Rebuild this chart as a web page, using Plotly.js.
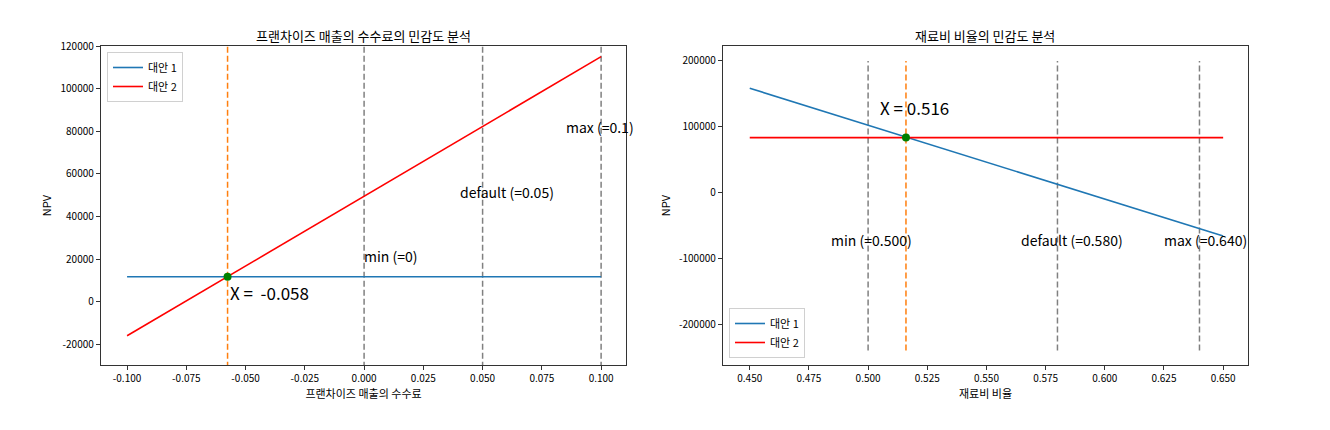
<!DOCTYPE html>
<html>
<head>
<meta charset="utf-8">
<script src="https://cdn.plot.ly/plotly-3.0.1.min.js"></script>
<style>
  body { margin: 0; background: #fff; }
  #plot { width: 1330px; height: 430px; }
</style>
</head>
<body>
<div id="plot"></div>
<script>
// left panel: franchise fee sensitivity
let feeX = [-0.1, 0.1];
let feeAlt1 = [11700, 11700];
let feeAlt2 = [-16000, 115000];
let feeCross = [-0.0576, 11700];
let feeMarks = [0, 0.05, 0.1];
let feeMarkLabels = ['min (=0)', 'default (=0.05)', 'max (=0.1)'];
let feeLabelX = [0, 0.0403, 0.0853];
let feeLabelY = [21600, 51700, 81900];
let feeVlineY = [-31000, 121000];
let feeXTicks = [-0.1, -0.075, -0.05, -0.025, 0, 0.025, 0.05, 0.075, 0.1];
let feeXTickText = ['-0.100', '-0.075', '-0.050', '-0.025', '0.000', '0.025', '0.050', '0.075', '0.100'];
let feeYTicks = [-20000, 0, 20000, 40000, 60000, 80000, 100000, 120000];
let feeYTickText = ['-20000', '0', '20000', '40000', '60000', '80000', '100000', '120000'];

// right panel: material cost ratio sensitivity
let matX = [0.45, 0.65];
let matAlt1 = [158500, -66000];
let matAlt2 = [83500, 83500];
let matCross = [0.516, 83500];
let matMarks = [0.5, 0.58, 0.64];
let matMarkLabels = ['min (=0.500)', 'default (=0.580)', 'max (=0.640)'];
let matLabelX = [0.4845, 0.5647, 0.6248];
let matLabelY = [-72700, -72700, -72700];
let matVlineY = [-240000, 200000];
let matXTicks = [0.45, 0.475, 0.5, 0.525, 0.55, 0.575, 0.6, 0.625, 0.65];
let matXTickText = ['0.450', '0.475', '0.500', '0.525', '0.550', '0.575', '0.600', '0.625', '0.650'];
let matYTicks = [-200000, -100000, 0, 100000, 200000];
let matYTickText = ['-200000', '-100000', '0', '100000', '200000'];

let font = '"Noto Sans CJK KR", "DejaVu Sans", sans-serif';
let data = [];

function vline(x, ys, color, xa, ya) {
  return {
    x: [x, x], y: ys, xaxis: xa, yaxis: ya,
    type: 'scatter', mode: 'lines', showlegend: false, hoverinfo: 'skip',
    line: {color: color, width: 1.5, dash: '6px,3px'}
  };
}

// left
feeMarks.forEach(m => data.push(vline(m, feeVlineY, '#808080', 'x', 'y')));
data.push(vline(feeCross[0], feeVlineY, '#ff7f0e', 'x', 'y'));
data.push({x: feeX, y: feeAlt1, xaxis: 'x', yaxis: 'y', type: 'scatter', mode: 'lines',
  name: '대안 1', legend: 'legend', line: {color: '#1f77b4', width: 1.6}});
data.push({x: feeX, y: feeAlt2, xaxis: 'x', yaxis: 'y', type: 'scatter', mode: 'lines',
  name: '대안 2', legend: 'legend', line: {color: '#ff0000', width: 1.6}});
data.push({x: [feeCross[0]], y: [feeCross[1]], xaxis: 'x', yaxis: 'y', type: 'scatter',
  mode: 'markers', showlegend: false, marker: {color: 'green', size: 8}});

// right
matMarks.forEach(m => data.push(vline(m, matVlineY, '#808080', 'x2', 'y2')));
data.push(vline(matCross[0], matVlineY, '#ff7f0e', 'x2', 'y2'));
data.push({x: matX, y: matAlt1, xaxis: 'x2', yaxis: 'y2', type: 'scatter', mode: 'lines',
  name: '대안 1', legend: 'legend2', line: {color: '#1f77b4', width: 1.6}});
data.push({x: matX, y: matAlt2, xaxis: 'x2', yaxis: 'y2', type: 'scatter', mode: 'lines',
  name: '대안 2', legend: 'legend2', line: {color: '#ff0000', width: 1.6}});
data.push({x: [matCross[0]], y: [matCross[1]], xaxis: 'x2', yaxis: 'y2', type: 'scatter',
  mode: 'markers', showlegend: false, marker: {color: 'green', size: 8}});

let annotations = [];
feeMarkLabels.forEach((t, i) => annotations.push({
  text: t, x: feeLabelX[i], y: feeLabelY[i], xref: 'x', yref: 'y',
  xanchor: 'left', yanchor: 'middle', showarrow: false, xshift: -2,
  font: {family: font, size: 14, color: '#000'}
}));
annotations.push({
  text: 'X =\u00a0 -0.058', x: feeCross[0], y: 4200, xref: 'x', yref: 'y',
  xanchor: 'left', yanchor: 'middle', showarrow: false,
  font: {family: font, size: 17, color: '#000'}
});
matMarkLabels.forEach((t, i) => annotations.push({
  text: t, x: matLabelX[i], y: matLabelY[i], xref: 'x2', yref: 'y2',
  xanchor: 'left', yanchor: 'middle', showarrow: false, xshift: -2,
  font: {family: font, size: 14, color: '#000'}
}));
annotations.push({
  text: 'X = 0.516', x: 0.505, y: 130000, xref: 'x2', yref: 'y2',
  xanchor: 'left', yanchor: 'middle', showarrow: false, xshift: -2,
  font: {family: font, size: 17, color: '#000'}
});
// titles
annotations.push({text: '프랜차이즈 매출의 수수료의 민감도 분석', xref: 'paper', yref: 'paper',
  x: 363 / 1330, y: 1 - 35 / 430, xanchor: 'center', yanchor: 'middle', showarrow: false,
  font: {family: font, size: 13, color: '#000'}});
annotations.push({text: '재료비 비율의 민감도 분석', xref: 'paper', yref: 'paper',
  x: 985 / 1330, y: 1 - 35 / 430, xanchor: 'center', yanchor: 'middle', showarrow: false,
  font: {family: font, size: 13, color: '#000'}});

function axisBase() {
  return {
    showline: true, mirror: true, linecolor: '#333', linewidth: 1.2,
    showgrid: false, zeroline: false, ticks: 'outside', ticklen: 4,
    tickcolor: '#333', tickfont: {family: font, size: 10, color: '#000'}
  };
}

let layout = {
  width: 1330, height: 430,
  margin: {l: 0, r: 0, t: 0, b: 0, autoexpand: false},
  paper_bgcolor: '#fff', plot_bgcolor: '#fff',
  annotations: annotations,
  xaxis: Object.assign(axisBase(), {
    domain: [101 / 1330, 626 / 1330], range: [-0.111, 0.1105], anchor: 'y',
    tickmode: 'array', tickvals: feeXTicks, ticktext: feeXTickText,
    title: {text: '프랜차이즈 매출의 수수료', font: {family: font, size: 11, color: '#000'}, standoff: 4}
  }),
  yaxis: Object.assign(axisBase(), {
    domain: [1 - 365 / 430, 1 - 46 / 430], range: [-29700, 120000], anchor: 'x',
    tickmode: 'array', tickvals: feeYTicks, ticktext: feeYTickText,
    title: {text: 'NPV', font: {family: font, size: 11, color: '#000'}, standoff: 6}
  }),
  xaxis2: Object.assign(axisBase(), {
    domain: [723 / 1330, 1248 / 1330], range: [0.4387, 0.6605], anchor: 'y2',
    tickmode: 'array', tickvals: matXTicks, ticktext: matXTickText,
    title: {text: '재료비 비율', font: {family: font, size: 11, color: '#000'}, standoff: 4}
  }),
  yaxis2: Object.assign(axisBase(), {
    domain: [1 - 365 / 430, 1 - 46 / 430], range: [-262000, 222700], anchor: 'x2',
    tickmode: 'array', tickvals: matYTicks, ticktext: matYTickText,
    title: {text: 'NPV', font: {family: font, size: 11, color: '#000'}, standoff: 6}
  }),
  legend: {
    x: 107 / 1330, y: 1 - 52 / 430, xanchor: 'left', yanchor: 'top',
    bgcolor: 'rgba(255,255,255,0.9)', bordercolor: '#d0d0d0', borderwidth: 1,
    font: {family: font, size: 11, color: '#000'}, tracegroupgap: 0, itemwidth: 30
  },
  legend2: {
    x: 729 / 1330, y: 1 - 358 / 430, xanchor: 'left', yanchor: 'bottom',
    bgcolor: 'rgba(255,255,255,0.9)', bordercolor: '#d0d0d0', borderwidth: 1,
    font: {family: font, size: 11, color: '#000'}, tracegroupgap: 0, itemwidth: 30
  }
};

Plotly.newPlot('plot', data, layout, {displayModeBar: false, staticPlot: true});
</script>
</body>
</html>
